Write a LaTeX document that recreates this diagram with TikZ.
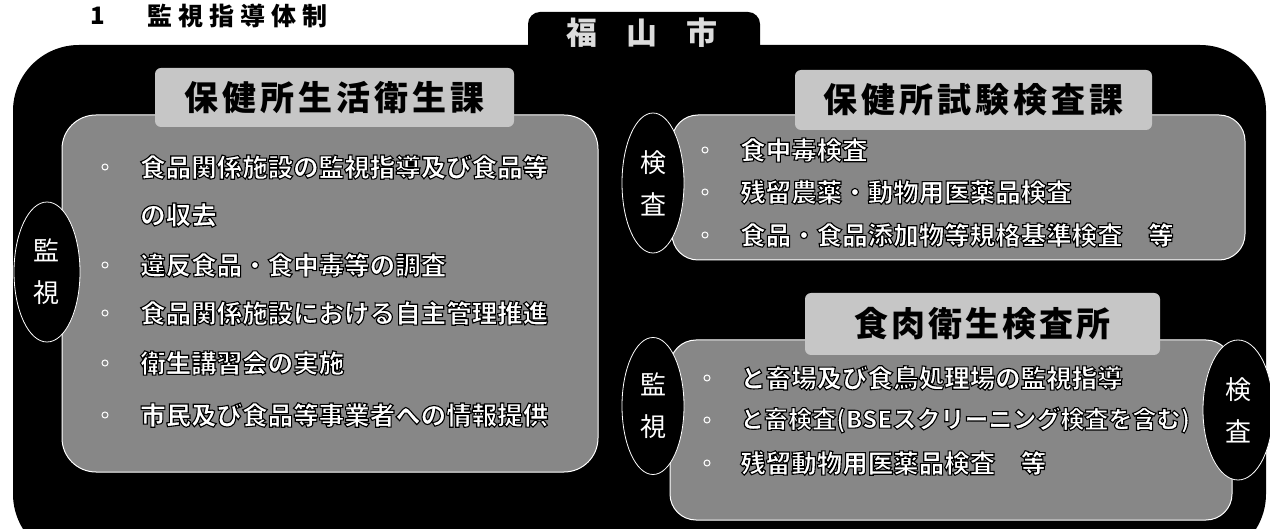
\documentclass[tikz,border=0pt]{standalone}
\usepackage{fontspec}
\usetikzlibrary{shapes.geometric}
\newfontfamily\jp{Noto Sans CJK JP}
\definecolor{panelgray}{HTML}{878787}
\definecolor{boxgray}{HTML}{C6C6C6}
\definecolor{tabtext}{HTML}{DCDCDC}
\newcommand\tk[1]{\kern#1pt}
% white glyphs with a black outline (PDF text render mode 2)
\newcommand\wt[1]{\special{pdf:literal direct 0 G 1.1 w 2 Tr}#1\special{pdf:literal direct 0 Tr}}
\begin{document}
\begin{tikzpicture}[x=1pt,y=-1pt,
  panel/.style={fill=panelgray, draw=white, line width=1pt},
  titlebox/.style={fill=boxgray, rounded corners=6pt, inner sep=0pt, text=black,
    font=\jp\bfseries\fontsize{34}{34}\selectfont},
  oval/.style={ellipse, fill=black, draw=white, line width=0.8pt, inner sep=0pt,
    minimum width=66pt, minimum height=140pt, text=white, align=center,
    font=\jp\fontsize{26}{42}\selectfont},
  item/.style={anchor=west, inner sep=0pt, text=white,
    font=\jp\bfseries\fontsize{25.5}{30}\selectfont},
  dotmark/.style={circle, draw=white, line width=1pt, inner sep=0pt, minimum size=6pt}
]
\useasboundingbox (0,0) rectangle (1270,529);
\clip (0,0) rectangle (1270,529);
\fill[white] (0,0) rectangle (1270,529);

% heading
\node[anchor=center, inner sep=0pt, font=\jp\bfseries\fontsize{24}{24}\selectfont] (num) at (98,16) {1};
\node[anchor=west, inner sep=0pt, font=\jp\bfseries\fontsize{25}{25}\selectfont] (head) at (147,16)
  {監\tk{6}視\tk{6}指\tk{6}導\tk{6}体\tk{6}制};

% outer black frame and tab
\fill[black, rounded corners=66pt] (13,45) rectangle (1266,560);
\fill[black, rounded corners=12pt] (528,12) rectangle (760,70);
\node[inner sep=0pt, text=tabtext, font=\jp\bfseries\fontsize{31}{31}\selectfont] (city) at (642,33)
  {福\tk{29}山\tk{29}市};

% panels
\draw[panel, rounded corners=34pt] (62,115) rectangle (598,472);
\draw[panel, rounded corners=26pt] (672,115) rectangle (1245,260);
\draw[panel, rounded corners=26pt] (670,340) rectangle (1232,520);

% title boxes
\node[titlebox, minimum width=359pt, minimum height=59pt] (t1) at (334.5,97.5)
  {保\tk{4}健\tk{4}所\tk{4}生\tk{4}活\tk{4}衛\tk{4}生\tk{4}課};
\node[titlebox, minimum width=357pt, minimum height=60pt] (t2) at (973.5,100)
  {保\tk{4}健\tk{4}所\tk{4}試\tk{4}験\tk{4}検\tk{4}査\tk{4}課};
\node[titlebox, minimum width=355pt, minimum height=62pt] (t3) at (982.5,324)
  {食\tk{3}肉\tk{3}衛\tk{3}生\tk{3}検\tk{3}査\tk{3}所};

% ovals
\node[oval] (o1) at (47,272) {監\\視};
\node[oval, minimum width=62pt] (o2) at (653,183) {検\\査};
\node[oval, minimum width=62pt, minimum height=137pt] (o3) at (653,406) {監\\視};
\node[oval, minimum width=70pt] (o4) at (1238,410) {検\\査};

% left panel items
\node[dotmark] (d11) at (105,167) {};
\node[item] (l11) at (140,167) {\wt{食品関係施設の監視指導及び食品等}};
\node[item] (l12) at (140,215) {\wt{の収去}};
\node[dotmark] (d13) at (105,265) {};
\node[item] (l13) at (140,265) {\wt{違反食品・食中毒等の調査}};
\node[dotmark] (d14) at (105,313) {};
\node[item] (l14) at (140,313) {\wt{食品関係施設における自主管理推進}};
\node[dotmark] (d15) at (105,363) {};
\node[item] (l15) at (140,363) {\wt{衛生講習会の実施}};
\node[dotmark] (d16) at (105,415) {};
\node[item] (l16) at (140,415) {\wt{市民及び食品等事業者への情報提供}};

% top right items
\node[dotmark] (d21) at (705,150) {};
\node[item] (r21) at (740,150) {\wt{食中毒検査}};
\node[dotmark] (d22) at (705,192) {};
\node[item] (r22) at (740,192) {\wt{残留農薬・動物用医薬品検査}};
\node[dotmark] (d23) at (705,235) {};
\node[item] (r23) at (740,235) {\wt{食品・食品添加物等規格基準検査　等}};

% bottom right items
\node[dotmark] (d31) at (707,378) {};
\node[item] (r31) at (740,378) {\wt{と畜場及び食鳥処理場の監視指導}};
\node[dotmark] (d32) at (707,420) {};
\node[item, font=\jp\bfseries\fontsize{24}{30}\selectfont] (r32) at (740,420)
  {\wt{と畜検査(BSEスクリーニング検査を含む)}};
\node[dotmark] (d33) at (707,463) {};
\node[item] (r33) at (740,463) {\wt{残留動物用医薬品検査　等}};
\end{tikzpicture}
\end{document}
